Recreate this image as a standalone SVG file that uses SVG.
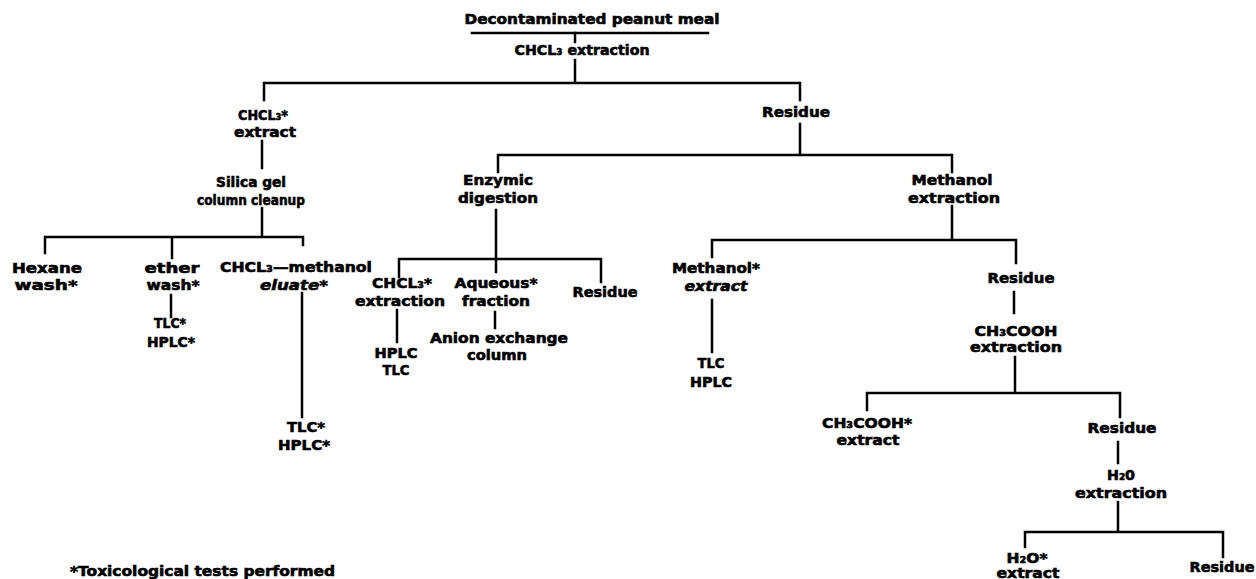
<svg xmlns="http://www.w3.org/2000/svg" width="1256" height="579" viewBox="0 0 1256 579">
<style>
.t{font-family:"DejaVu Sans","Liberation Sans",sans-serif;font-weight:bold;font-size:14px;text-anchor:middle;fill:#000;stroke:#000;stroke-width:0.6}
.i{font-style:italic}
.s{font-family:"DejaVu Sans","Liberation Sans",sans-serif;font-weight:bold;font-size:14px;fill:#000;stroke:#000;stroke-width:0.6}
.c{fill:none;stroke:#000;stroke-width:2.5;stroke-linecap:square;stroke-linejoin:miter}
</style>
<rect width="1256" height="579" fill="#fff"/>
<g id="connectors" class="c">
<path d="M575 33V42M575 60V83M264 100V83H800V100M262 141V168M262 208V237M45 253V237H303V245M172 237V258M171 295V317M302 293V417M800 124V155M498 172V155H952V172M496 210V259M399 277V259H601V282M496 259V272M397 310V342M495 312V328M952 206V240M712 257V240H1016V263M712 300V352M1014 292V313M1015 357V393M867 410V393H1120V417M1118 442V463M1118 502V532M1025 547V532H1223V557"/>
</g>
<g id="n-meal"><text class="t" x="592" y="24" textLength="255" lengthAdjust="spacingAndGlyphs">Decontaminated peanut meal</text><path class="c" d="M472 33H708"/></g>
<g id="n-chcl-extraction"><text class="t" x="582" y="55" textLength="135" lengthAdjust="spacingAndGlyphs">CHCL₃ extraction</text></g>
<g id="n-chcl-extract"><text class="t" x="263" y="120" textLength="50" lengthAdjust="spacingAndGlyphs">CHCL₃*</text><text class="t" x="265" y="137" textLength="62" lengthAdjust="spacingAndGlyphs">extract</text></g>
<g id="n-silica"><text class="t" x="251" y="187" textLength="70" lengthAdjust="spacingAndGlyphs">Silica gel</text><text class="t" x="251" y="205" textLength="108" lengthAdjust="spacingAndGlyphs">column cleanup</text></g>
<g id="n-hexane"><text class="t" x="47" y="273" textLength="70" lengthAdjust="spacingAndGlyphs">Hexane</text><text class="t" x="46" y="290" textLength="63" lengthAdjust="spacingAndGlyphs">wash*</text></g>
<g id="n-ether"><text class="t" x="172" y="273" textLength="55" lengthAdjust="spacingAndGlyphs">ether</text><text class="t" x="173" y="290" textLength="53" lengthAdjust="spacingAndGlyphs">wash*</text></g>
<g id="n-ether-tests"><text class="t" x="170" y="328" textLength="32" lengthAdjust="spacingAndGlyphs">TLC*</text><text class="t" x="171" y="347" textLength="48" lengthAdjust="spacingAndGlyphs">HPLC*</text></g>
<g id="n-eluate"><text class="t" x="296" y="272" textLength="152" lengthAdjust="spacingAndGlyphs">CHCL₃—methanol</text><text class="t i" x="294" y="290" textLength="68" lengthAdjust="spacingAndGlyphs">eluate*</text></g>
<g id="n-eluate-tests"><text class="t" x="306" y="432" textLength="38" lengthAdjust="spacingAndGlyphs">TLC*</text><text class="t" x="304" y="450" textLength="52" lengthAdjust="spacingAndGlyphs">HPLC*</text></g>
<g id="n-residue1"><text class="t" x="796" y="117" textLength="68" lengthAdjust="spacingAndGlyphs">Residue</text></g>
<g id="n-enzymic"><text class="t" x="498" y="185" textLength="70" lengthAdjust="spacingAndGlyphs">Enzymic</text><text class="t" x="498" y="203" textLength="80" lengthAdjust="spacingAndGlyphs">digestion</text></g>
<g id="n-chcl-extraction2"><text class="t" x="402" y="288" textLength="60" lengthAdjust="spacingAndGlyphs">CHCL₃*</text><text class="t" x="400" y="306" textLength="90" lengthAdjust="spacingAndGlyphs">extraction</text></g>
<g id="n-hplc-tlc"><text class="t" x="396" y="358" textLength="43" lengthAdjust="spacingAndGlyphs">HPLC</text><text class="t" x="396" y="375" textLength="27" lengthAdjust="spacingAndGlyphs">TLC</text></g>
<g id="n-aqueous"><text class="t" x="496" y="288" textLength="83" lengthAdjust="spacingAndGlyphs">Aqueous*</text><text class="t" x="496" y="306" textLength="68" lengthAdjust="spacingAndGlyphs">fraction</text></g>
<g id="n-anion"><text class="t" x="499" y="343" textLength="138" lengthAdjust="spacingAndGlyphs">Anion exchange</text><text class="t" x="497" y="360" textLength="60" lengthAdjust="spacingAndGlyphs">column</text></g>
<g id="n-residue2"><text class="t" x="605" y="297" textLength="65" lengthAdjust="spacingAndGlyphs">Residue</text></g>
<g id="n-methanol-extraction"><text class="t" x="952" y="185" textLength="81" lengthAdjust="spacingAndGlyphs">Methanol</text><text class="t" x="954" y="203" textLength="92" lengthAdjust="spacingAndGlyphs">extraction</text></g>
<g id="n-methanol-extract"><text class="t" x="716" y="273" textLength="88" lengthAdjust="spacingAndGlyphs">Methanol*</text><text class="t i" x="716" y="291" textLength="63" lengthAdjust="spacingAndGlyphs">extract</text></g>
<g id="n-tlc-hplc"><text class="t" x="711" y="368" textLength="27" lengthAdjust="spacingAndGlyphs">TLC</text><text class="t" x="711" y="387" textLength="42" lengthAdjust="spacingAndGlyphs">HPLC</text></g>
<g id="n-residue3"><text class="t" x="1021" y="283" textLength="67" lengthAdjust="spacingAndGlyphs">Residue</text></g>
<g id="n-acetic-extraction"><text class="t" x="1016" y="336" textLength="83" lengthAdjust="spacingAndGlyphs">CH₃COOH</text><text class="t" x="1016" y="352" textLength="92" lengthAdjust="spacingAndGlyphs">extraction</text></g>
<g id="n-acetic-extract"><text class="t" x="867" y="428" textLength="90" lengthAdjust="spacingAndGlyphs">CH₃COOH*</text><text class="t" x="868" y="445" textLength="63" lengthAdjust="spacingAndGlyphs">extract</text></g>
<g id="n-residue4"><text class="t" x="1122" y="433" textLength="69" lengthAdjust="spacingAndGlyphs">Residue</text></g>
<g id="n-water-extraction"><text class="t" x="1121" y="480" textLength="28" lengthAdjust="spacingAndGlyphs">H₂0</text><text class="t" x="1121" y="498" textLength="92" lengthAdjust="spacingAndGlyphs">extraction</text></g>
<g id="n-water-extract"><text class="t" x="1027" y="563" textLength="41" lengthAdjust="spacingAndGlyphs">H₂O*</text><text class="t" x="1028" y="578" textLength="63" lengthAdjust="spacingAndGlyphs">extract</text></g>
<g id="n-residue5"><text class="t" x="1222" y="572" textLength="65" lengthAdjust="spacingAndGlyphs">Residue</text></g>
<g id="footnote"><text class="s" x="70" y="576" textLength="265" lengthAdjust="spacingAndGlyphs">*Toxicological tests performed</text></g>
</svg>
